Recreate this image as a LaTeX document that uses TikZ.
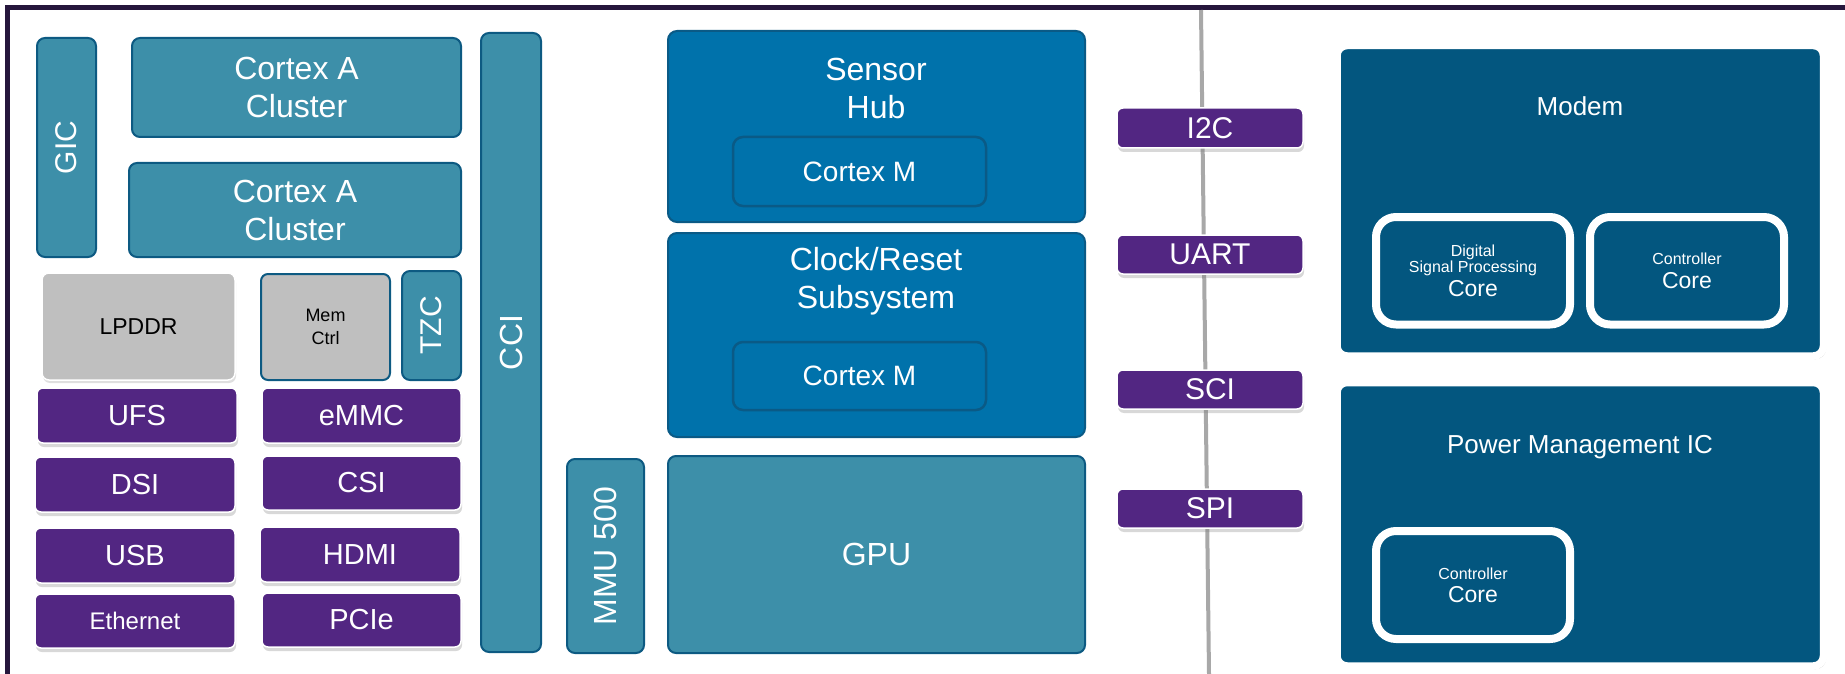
\documentclass[tikz,border=0pt]{standalone}
\usepackage{fontspec}
\setmainfont{Liberation Sans}
\usetikzlibrary{shadows}
\definecolor{tealf}{HTML}{3D8FA9}
\definecolor{tealb}{HTML}{0D5A82}
\definecolor{bluef}{HTML}{0072AB}
\definecolor{blueb}{HTML}{0A5A86}
\definecolor{darkf}{HTML}{03567F}
\definecolor{purf}{HTML}{522682}
\definecolor{grayf}{HTML}{BFBFBF}
\definecolor{framec}{HTML}{26163C}
\definecolor{busc}{HTML}{A8A8A8}
\begin{document}
\begin{tikzpicture}[x=1pt,y=-1pt,
  every node/.style={inner sep=0pt, outer sep=0pt, text=white, align=center},
  f32/.style={font=\fontsize{32}{38}\selectfont},
  f30/.style={font=\fontsize{30}{36}\selectfont},
  f29/.style={font=\fontsize{29}{34}\selectfont},
  f28/.style={font=\fontsize{28}{33}\selectfont},
  f26/.style={font=\fontsize{26}{31}\selectfont},
  f24/.style={font=\fontsize{24}{29}\selectfont},
  f23/.style={font=\fontsize{23}{28}\selectfont},
  f18/.style={font=\fontsize{18}{23}\selectfont},
  f16/.style={font=\fontsize{16}{20}\selectfont},
  tbox/.style={draw=tealb, fill=tealf, line width=2pt, rounded corners=8pt},
  bbox/.style={draw=blueb, fill=bluef, line width=2pt, rounded corners=9pt},
  cmbox/.style={draw=blueb, line width=2.5pt, rounded corners=10pt, f28},
  pbox/.style={draw=white, fill=purf, line width=1.5pt, rounded corners=6pt,
     drop shadow={shadow xshift=1pt, shadow yshift=-4pt, opacity=0.3}},
  gbox/.style={fill=grayf, rounded corners=7pt, text=black},
  obox/.style={draw=white, fill=darkf, line width=7.5pt, rounded corners=10pt,
     drop shadow={shadow xshift=2.5pt, shadow yshift=-3pt, opacity=0.4}},
  cbox/.style={draw=white, fill=darkf, line width=8pt, rounded corners=20pt,
     drop shadow={shadow xshift=2pt, shadow yshift=-3pt, opacity=0.35}},
  framel/.style={draw=framec, line width=5pt},
  busl/.style={draw=busc, line width=4pt}
]
\useasboundingbox (0,0) rectangle (1845,674);
\fill[white] (0,0) rectangle (1845,674);
% frame
\draw[framel] (1845,7.5) -- (7.5,7.5) -- (7.5,674);
% bus line
\coordinate (bustop) at (1201,10);
\coordinate (busbot) at (1209,674);
\draw[busl] (bustop) -- (busbot);

% left block
\node[tbox, f30, minimum width=59, minimum height=219] (gic) at (66.5,147.5) {\rotatebox{90}{GIC}};
\node[tbox, f32, minimum width=329, minimum height=99] (ca1) at (296.5,87.5) {Cortex A\\Cluster};
\node[tbox, f32, minimum width=332, minimum height=94] (ca2) at (295,210) {Cortex A\\Cluster};
\node[tbox, f32, minimum width=60, minimum height=619] (cci) at (511,342.5) {\rotatebox{90}{CCI}};
\node[gbox, draw=white, line width=1.5pt, f23, minimum width=193, minimum height=107,
      drop shadow={shadow xshift=1pt, shadow yshift=-3pt, opacity=0.25}] (lpddr) at (138.5,326.5) {LPDDR};
\node[gbox, draw=tealb, line width=2pt, f18, minimum width=129, minimum height=106] (memctrl) at (325.5,327) {Mem\\Ctrl};
\node[tbox, f30, minimum width=59, minimum height=109] (tzc) at (431.5,325.5) {\rotatebox{90}{TZC}};

\node[pbox, f29, minimum width=200, minimum height=55] (ufs) at (137,415.5) {UFS};
\node[pbox, f29, minimum width=199, minimum height=55] (emmc) at (361.5,415.5) {eMMC};
\node[pbox, f29, minimum width=200, minimum height=55] (dsi) at (135,484.5) {DSI};
\node[pbox, f29, minimum width=199, minimum height=54] (csi) at (361.5,483) {CSI};
\node[pbox, f29, minimum width=200, minimum height=55] (usb) at (135,555.5) {USB};
\node[pbox, f29, minimum width=200, minimum height=55] (hdmi) at (360,554.5) {HDMI};
\node[pbox, f24, minimum width=200, minimum height=54] (eth) at (135,621) {Ethernet};
\node[pbox, f29, minimum width=199, minimum height=54] (pcie) at (361.5,620) {PCIe};

% middle block
\node[bbox, minimum width=417, minimum height=191] (shub) at (876.5,126.5) {};
\node[f32] (shubt) at (876,88) {Sensor\\Hub};
\node[cmbox, minimum width=253, minimum height=69] (cm1) at (859.5,171.5) {Cortex M};
\node[bbox, minimum width=417, minimum height=204] (clk) at (876.5,335) {};
\node[f32] (clkt) at (876,281) {Clock/Reset\\Subsystem};
\node[cmbox, minimum width=253, minimum height=68] (cm2) at (859.5,376) {Cortex M};
\node[tbox, f32, minimum width=77, minimum height=194] (mmu) at (605.5,556) {\rotatebox{90}{MMU 500}};
\node[tbox, f32, minimum width=417, minimum height=197] (gpu) at (876.5,554.5) {GPU};

% serial interfaces
\node[pbox, f30, minimum width=186, minimum height=40] (i2c) at (1210,128) {I2C};
\node[pbox, f30, minimum width=186, minimum height=39] (uart) at (1210,254.5) {UART};
\node[pbox, f30, minimum width=186, minimum height=39] (sci) at (1210,389.5) {SCI};
\node[pbox, f30, minimum width=186, minimum height=39] (spi) at (1210,508.5) {SPI};

% modem
\node[obox, minimum width=486.5, minimum height=310.5] (modem) at (1580.25,200.75) {};
\node[f26] (modemt) at (1580,106) {Modem};
\node[cbox, minimum width=194, minimum height=107.5] (dsp) at (1473,270.75)
  {\fontsize{16}{20}\selectfont Digital\\\fontsize{16}{20}\selectfont Signal Processing\\[4pt]\fontsize{23}{25}\selectfont Core};
\node[cbox, minimum width=194, minimum height=107.5] (mctl) at (1687,270.75)
  {\fontsize{16}{20}\selectfont Controller\\[6pt]\fontsize{23}{25}\selectfont Core};

% PMIC
\node[obox, minimum width=486.5, minimum height=283.5] (pmic) at (1580.25,524.25) {};
\node[f26] (pmict) at (1580,447) {Power Management IC};
\node[cbox, minimum width=194, minimum height=108] (pctl) at (1473,585)
  {\fontsize{16}{20}\selectfont Controller\\[6pt]\fontsize{23}{25}\selectfont Core};
\end{tikzpicture}
\end{document}
